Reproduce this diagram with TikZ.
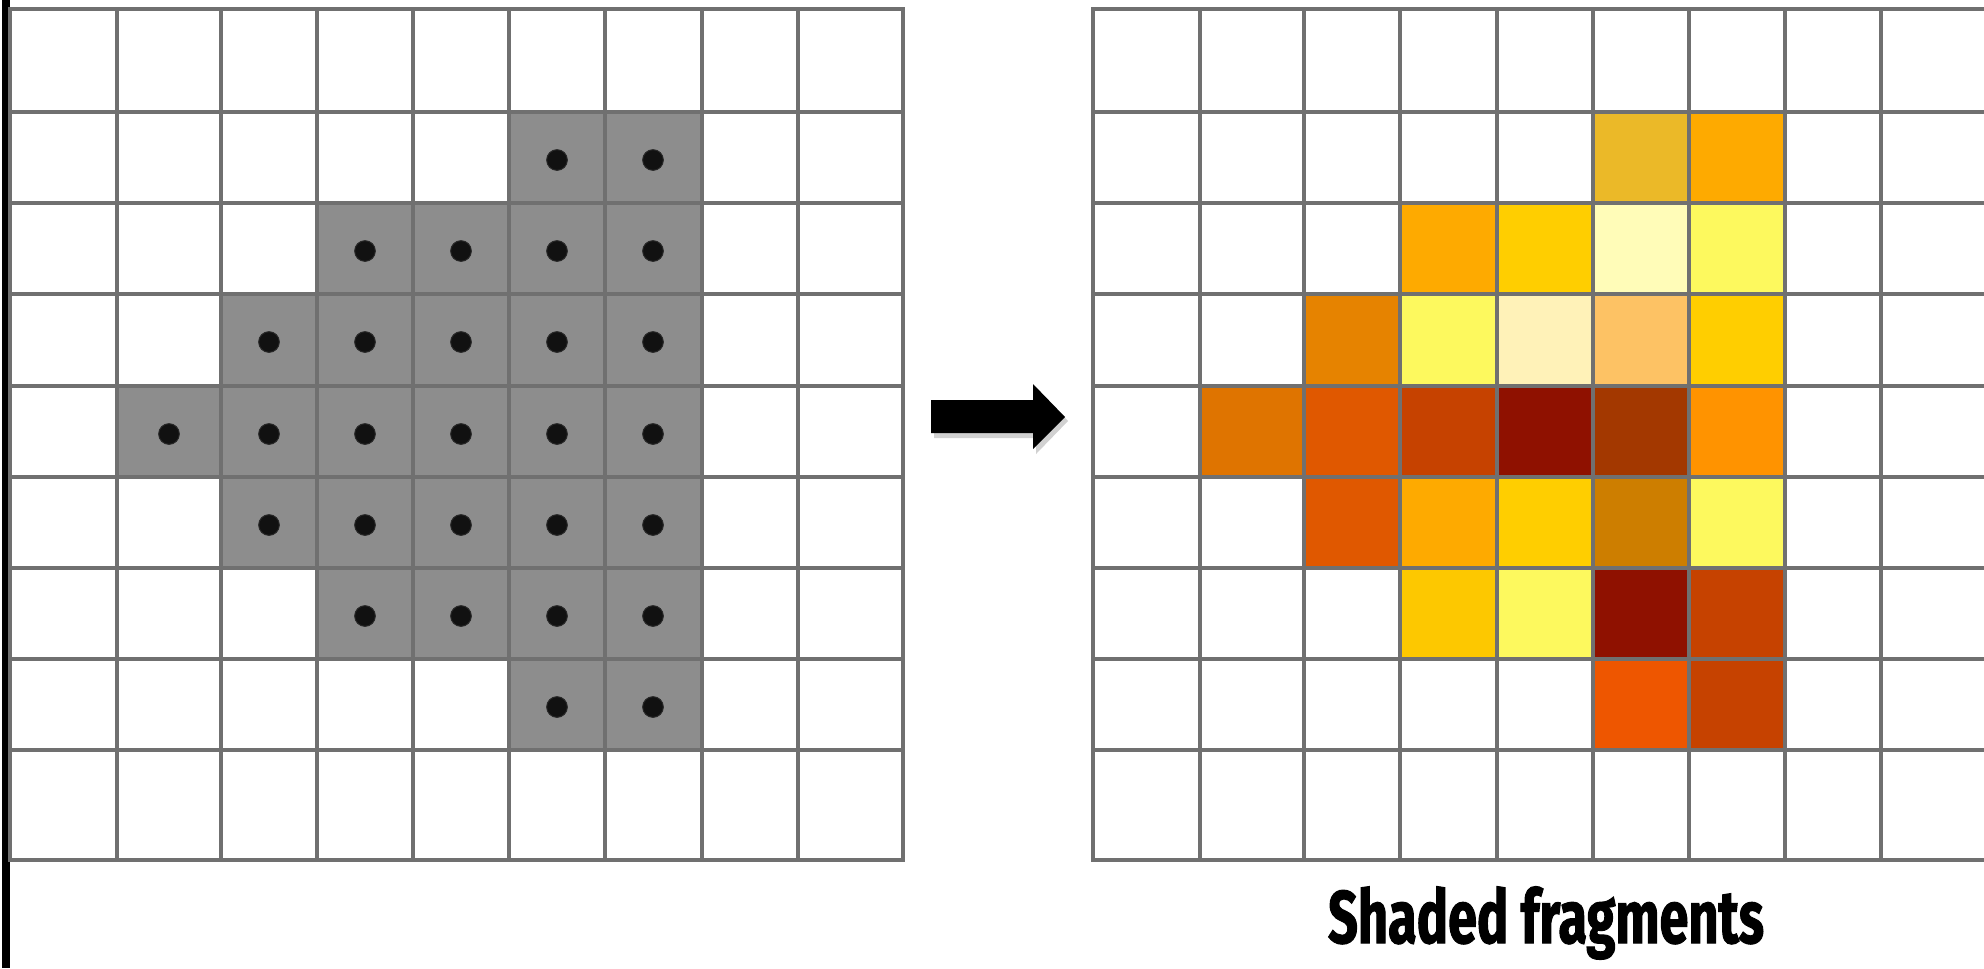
\documentclass[tikz,border=0pt]{standalone}
\usepackage{fontspec}

\newfontfamily\captionfont[FakeStretch=0.70,BoldFeatures={FakeBold=1.3}]{Fira Sans}

\definecolor{gridgray}{RGB}{112,112,112}
\definecolor{coverfill}{RGB}{141,141,141}
\definecolor{fragOchre}{RGB}{235,185,40}
\definecolor{fragAmber}{RGB}{254,170,0}
\definecolor{fragGold}{RGB}{255,206,0}
\definecolor{fragCream}{RGB}{255,252,184}
\definecolor{fragLemon}{RGB}{253,249,94}
\definecolor{fragTangerine}{RGB}{230,131,0}
\definecolor{fragIvory}{RGB}{255,242,184}
\definecolor{fragPeach}{RGB}{253,194,100}
\definecolor{fragPumpkin}{RGB}{223,116,0}
\definecolor{fragBlood}{RGB}{224,88,0}
\definecolor{fragRust}{RGB}{198,66,0}
\definecolor{fragMaroon}{RGB}{143,17,0}
\definecolor{fragBrown}{RGB}{163,56,0}
\definecolor{fragOrange}{RGB}{255,147,0}
\definecolor{fragBronze}{RGB}{205,126,0}
\definecolor{fragSun}{RGB}{253,200,0}
\definecolor{fragFlame}{RGB}{238,86,0}

\tikzset{every picture/.style={line width=0.75pt}}

\begin{document}
\begin{tikzpicture}[x=0.3pt,y=0.3pt,yscale=-1,xscale=1,
    gridline/.style={draw=gridgray, line width=1.15pt, line cap=rect},
    pixdot/.style={fill={rgb,255:red,17;green,17;blue,17}, draw={rgb,255:red,40;green,40;blue,40}, line width=0.3pt}]
  \path[use as bounding box] (0,0) rectangle (1984,968);

  %Straight Lines: left rule
  \draw [line width=2.2pt]  (6,0) -- (6,968) ;

  %Shape: covered pixels
  \fill [coverfill]  (509,112) -- (702,112) -- (702,750) -- (509,750) -- (509,659) -- (317,659) -- (317,568) -- (221,568) -- (221,477) -- (117,477) -- (117,386) -- (221,386) -- (221,294) -- (317,294) -- (317,203) -- (509,203) -- cycle ;

  %Shape: shaded fragments, row 1
  \fill [fragOchre]  (1593,112) rectangle (1689,203) ;
  \fill [fragAmber]  (1689,112) rectangle (1785,203) ;
  %Shape: shaded fragments, row 2
  \fill [fragAmber]  (1400,203) rectangle (1497,294) ;
  \fill [fragGold]  (1497,203) rectangle (1593,294) ;
  \fill [fragCream]  (1593,203) rectangle (1689,294) ;
  \fill [fragLemon]  (1689,203) rectangle (1785,294) ;
  %Shape: shaded fragments, row 3
  \fill [fragTangerine]  (1304,294) rectangle (1400,386) ;
  \fill [fragLemon]  (1400,294) rectangle (1497,386) ;
  \fill [fragIvory]  (1497,294) rectangle (1593,386) ;
  \fill [fragPeach]  (1593,294) rectangle (1689,386) ;
  \fill [fragGold]  (1689,294) rectangle (1785,386) ;
  %Shape: shaded fragments, row 4
  \fill [fragPumpkin]  (1200,386) rectangle (1304,477) ;
  \fill [fragBlood]  (1304,386) rectangle (1400,477) ;
  \fill [fragRust]  (1400,386) rectangle (1497,477) ;
  \fill [fragMaroon]  (1497,386) rectangle (1593,477) ;
  \fill [fragBrown]  (1593,386) rectangle (1689,477) ;
  \fill [fragOrange]  (1689,386) rectangle (1785,477) ;
  %Shape: shaded fragments, row 5
  \fill [fragBlood]  (1304,477) rectangle (1400,568) ;
  \fill [fragAmber]  (1400,477) rectangle (1497,568) ;
  \fill [fragGold]  (1497,477) rectangle (1593,568) ;
  \fill [fragBronze]  (1593,477) rectangle (1689,568) ;
  \fill [fragLemon]  (1689,477) rectangle (1785,568) ;
  %Shape: shaded fragments, row 6
  \fill [fragSun]  (1400,568) rectangle (1497,659) ;
  \fill [fragLemon]  (1497,568) rectangle (1593,659) ;
  \fill [fragMaroon]  (1593,568) rectangle (1689,659) ;
  \fill [fragRust]  (1689,568) rectangle (1785,659) ;
  %Shape: shaded fragments, row 7
  \fill [fragFlame]  (1593,659) rectangle (1689,750) ;
  \fill [fragRust]  (1689,659) rectangle (1785,750) ;

  %Straight Lines: left grid
  \foreach \x in {10,117,221,317,413,509,605,702,798,903}
    \draw [gridline]  (\x,9) -- (\x,860) ;
  \foreach \y in {9,112,203,294,386,477,568,659,750,860}
    \draw [gridline]  (10,\y) -- (903,\y) ;
  %Straight Lines: right grid
  \foreach \x in {1093,1200,1304,1400,1497,1593,1689,1785,1881}
    \draw [gridline]  (\x,9) -- (\x,860) ;
  \foreach \y in {9,112,203,294,386,477,568,659,750,860}
    \draw [gridline]  (1093,\y) -- (1984,\y) ;

  %Shape: sample points
  \foreach \x in {557,653} \filldraw [pixdot]  (\x,160) circle (3.1pt) ;
  \foreach \x in {365,461,557,653} \filldraw [pixdot]  (\x,251) circle (3.1pt) ;
  \foreach \x in {269,365,461,557,653} \filldraw [pixdot]  (\x,342) circle (3.1pt) ;
  \foreach \x in {169,269,365,461,557,653} \filldraw [pixdot]  (\x,434) circle (3.1pt) ;
  \foreach \x in {269,365,461,557,653} \filldraw [pixdot]  (\x,525) circle (3.1pt) ;
  \foreach \x in {365,461,557,653} \filldraw [pixdot]  (\x,616) circle (3.1pt) ;
  \foreach \x in {557,653} \filldraw [pixdot]  (\x,707) circle (3.1pt) ;

  %Shape: block arrow (soft shadow, then arrow)
  \fill [black, opacity=0.18]  (934,404) -- (1036,404) -- (1036,388) -- (1068,421) -- (1036,454) -- (1036,438) -- (934,438) -- cycle ;
  \fill [black]  (931,400) -- (1033,400) -- (1033,384) -- (1065,417) -- (1033,449) -- (1033,433) -- (931,433) -- cycle ;

  % Text Node
  \node (caption) at (1546,943) [anchor=base, inner sep=0pt] {\captionfont\bfseries\fontsize{22.4}{24}\selectfont Shaded fragments};

\end{tikzpicture}
\end{document}
